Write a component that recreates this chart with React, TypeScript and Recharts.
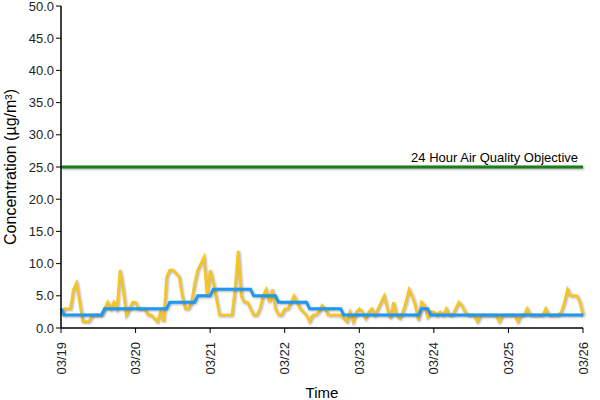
import React from 'react';
import { LineChart, Line, XAxis, YAxis, ReferenceLine } from 'recharts';

const dayLabels = ['03/19', '03/20', '03/21', '03/22', '03/23', '03/24', '03/25', '03/26'];
const dayTicks = [0, 24, 48, 72, 96, 120, 144, 168];
const yTicks = [0, 5, 10, 15, 20, 25, 30, 35, 40, 45, 50];

// hourly PM concentration (µg/m³), 03/19 00:00 .. 03/26 00:00
const hourly = [
  2, 3, 3, 3, 6, 7, 4, 1, 1, 1, 2, 2, 2, 2, 3, 4, 3, 4, 3, 9, 6, 2, 3, 4,
  4, 3, 3, 3, 2, 2, 1.5, 1, 2.5, 1, 8, 9, 9, 8.5, 8, 5, 3, 3, 4, 7, 9, 10, 11, 5,
  9, 7, 4.5, 2, 2, 2, 2, 2, 6, 12, 5, 4, 4, 3, 2, 2, 3, 5, 6, 4, 6, 3, 2, 2,
  3, 3, 4, 5, 4, 3, 2.5, 2, 1, 2, 2, 2.5, 3.5, 3, 2, 2, 2, 2, 2, 1.5, 1, 2.5, 1, 2.5,
  3, 2.5, 1.5, 2.5, 3, 2, 3, 4, 5, 3, 1.5, 4, 2, 1.5, 2.5, 4, 6, 5, 3.5, 1.2, 4, 3.5, 1.7, 2.5,
  2.5, 2, 2.5, 2, 3, 2, 2, 3, 4, 3.5, 2.5, 2, 2, 2, 1, 2, 2, 2, 2, 2, 2, 1, 2, 2,
  2, 2, 2, 1, 2, 2, 3, 2, 2, 2, 2, 2, 3, 2, 2, 2, 2, 2.5, 4, 6, 5, 5, 5, 4,
  2,
];

// 24-hour rolling average (µg/m³)
const rolling = [
  3, 2, 2, 2, 2, 2, 2, 2, 2, 2, 2, 2, 2, 2, 3, 3, 3, 3, 3, 3, 3, 3, 3, 3,
  3, 3, 3, 3, 3, 3, 3, 3, 3, 3, 3, 4, 4, 4, 4, 4, 4, 4, 4, 4, 5, 5, 5, 5,
  5, 6, 6, 6, 6, 6, 6, 6, 6, 6, 6, 6, 6, 6, 5, 5, 5, 5, 5, 5, 5, 5, 4, 4,
  4, 4, 4, 4, 4, 4, 4, 4, 3, 3, 3, 3, 3, 3, 3, 3, 3, 3, 3, 2, 2, 2, 2, 2,
  2, 2, 2, 2, 2, 2, 2, 2, 2, 2, 2, 2, 2, 2, 2, 2, 2, 2, 2, 2, 3, 3, 3, 2,
  2, 2, 2, 2, 2, 2, 2, 2, 2, 2, 2, 2, 2, 2, 2, 2, 2, 2, 2, 2, 2, 2, 2, 2,
  2, 2, 2, 2, 2, 2, 2, 2, 2, 2, 2, 2, 2, 2, 2, 2, 2, 2, 2, 2, 2, 2, 2, 2,
  2,
];

const objective = 25;
const objectiveLabel = '24 Hour Air Quality Objective';

const data = hourly.map((v, i) => ({ hour: i, pm: v, avg: rolling[i] }));

const FONT = '"Liberation Sans", Arial, sans-serif';

const XTick = (props: any) => {
  const { x, y, payload } = props;
  const idx = dayTicks.indexOf(payload.value);
  return (
    <text
      x={0}
      y={0}
      transform={`translate(${x + 4.5},${y + 7}) rotate(-90)`}
      textAnchor="end"
      fontSize={13}
      fontFamily={FONT}
      fill="#222"
    >
      {dayLabels[idx]}
    </text>
  );
};

const YLabel = () => {
  const cy = 6 + 322 / 2;
  return (
    <text
      x={0}
      y={0}
      transform={`translate(16,${cy}) rotate(-90)`}
      textAnchor="middle"
      fontSize={16}
      fontFamily={FONT}
      fill="#000"
    >
      Concentration (µg/m³)
    </text>
  );
};

export default function App() {
  return (
    <div style={{ position: 'absolute', left: 0, top: 0, width: 600, height: 400, background: '#fff' }}>
      <LineChart width={600} height={400} data={data} margin={{ top: 6, right: 17, bottom: 0, left: 0 }}>
        <XAxis
          dataKey="hour"
          type="number"
          domain={[0, 168]}
          ticks={dayTicks}
          tick={<XTick />}
          tickSize={5}
          height={72}
          stroke="#000"
          axisLine={{ stroke: '#000', strokeWidth: 1.5 }}
          tickLine={{ stroke: '#000' }}
          interval={0}
          label={{ value: 'Time', position: 'insideBottom', offset: 2, fontSize: 15, fontFamily: FONT, fill: '#000' }}
        />
        <YAxis
          domain={[0, 50]}
          ticks={yTicks}
          width={61}
          tickSize={5}
          interval={0}
          tickFormatter={(v: number) => v.toFixed(1)}
          tick={{ fontSize: 13, fontFamily: FONT, fill: '#222' }}
          axisLine={{ stroke: '#000', strokeWidth: 1.5 }}
          tickLine={{ stroke: '#000' }}
          label={<YLabel />}
        />
        <ReferenceLine
          y={objective}
          stroke="#1d7d1d"
          strokeWidth={3}
          style={{ filter: 'drop-shadow(1px 1.5px 0.8px rgba(0,0,0,0.35))' }}
          label={{ value: objectiveLabel, position: 'insideBottomRight', offset: 5, fontSize: 13, fontFamily: FONT, fill: '#000' }}
        />
        <Line
          dataKey="pm"
          stroke="#f7c51d"
          strokeWidth={2.5}
          dot={false}
          isAnimationActive={false}
          style={{ filter: 'drop-shadow(1px 1.5px 0.8px rgba(0,0,0,0.35))' }}
        />
        <Line
          dataKey="avg"
          stroke="#1e98f0"
          strokeWidth={3}
          dot={false}
          isAnimationActive={false}
          style={{ filter: 'drop-shadow(1px 1.5px 0.8px rgba(0,0,0,0.3))' }}
        />
      </LineChart>
    </div>
  );
}
